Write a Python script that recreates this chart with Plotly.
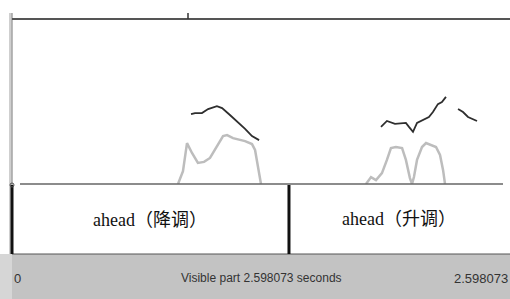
import plotly.graph_objects as go

# ---- data ----
total_dur = 2.598073
boundary_t = 1.445

pitch1_t = [0.934, 0.955, 0.991, 1.023, 1.069, 1.096, 1.137, 1.179, 1.216, 1.252, 1.289]
pitch1_hz = [212, 215, 215, 227, 236, 230, 209, 188, 167, 145, 133]

pitch2_t = [1.925, 1.956, 1.998, 2.055, 2.071, 2.092, 2.113, 2.144, 2.175, 2.196, 2.222, 2.243, 2.264]
pitch2_hz = [173, 191, 182, 185, 173, 158, 185, 194, 203, 218, 242, 248, 264]

pitch3_t = [2.327, 2.353, 2.379, 2.426]
pitch3_hz = [227, 218, 203, 191]

int1_t = [0.866, 0.892, 0.913, 0.939, 0.970, 1.002, 1.033, 1.069, 1.101, 1.122, 1.153, 1.216, 1.252, 1.268, 1.283, 1.299]
int1_db = [50, 53.9, 62.4, 59.4, 56.4, 56.7, 57.9, 61.2, 64.5, 64.8, 63.9, 63.0, 62.1, 60.3, 55.2, 50]

int2_t = [1.847, 1.873, 1.899, 1.930, 1.956, 1.977, 2.003, 2.035, 2.055, 2.076, 2.087, 2.097, 2.113,
          2.139, 2.160, 2.186, 2.212, 2.233, 2.249, 2.259]
int2_db = [50, 52.1, 51.2, 53.3, 57.3, 60.9, 61.2, 60.9, 57.3, 51.8, 50, 52.1, 57.3,
           61.2, 62.4, 61.8, 61.2, 58.8, 54.2, 50]

tier_labels = ["ahead（降调）", "ahead（升调）"]
bottom_left_label = "0"
bottom_center_label = "Visible part 2.598073 seconds"
bottom_right_label = "2.598073"

W, H = 510, 299


def px(x):
    return x / W


def py(y):
    return 1 - y / H


fig = go.Figure()

int_style = dict(color="#bdbdbd", width=2.5)
pitch_style = dict(color="#2e2e2e", width=1.8)

for t, v in [(int1_t, int1_db), (int2_t, int2_db)]:
    fig.add_trace(go.Scatter(x=t, y=v, mode="lines", line=int_style, yaxis="y2",
                             hoverinfo="skip", showlegend=False))
for t, v in [(pitch1_t, pitch1_hz), (pitch2_t, pitch2_hz), (pitch3_t, pitch3_hz)]:
    fig.add_trace(go.Scatter(x=t, y=v, mode="lines", line=pitch_style, yaxis="y",
                             hoverinfo="skip", showlegend=False))

ax_dom_y = [py(184), py(19)]
fig.update_layout(
    width=W, height=H,
    margin=dict(l=0, r=0, t=0, b=0),
    paper_bgcolor="white", plot_bgcolor="rgba(0,0,0,0)",
    xaxis=dict(domain=[px(12), 1.0], range=[0, total_dur], visible=False, fixedrange=True),
    yaxis=dict(domain=ax_dom_y, range=[0, 500], visible=False),
    yaxis2=dict(domain=ax_dom_y, range=[50, 100], visible=False, overlaying="y"),
)

shapes = []
# bottom grey bar
shapes.append(dict(type="rect", xref="paper", yref="paper", x0=0, x1=1, y0=0, y1=py(254),
                   fillcolor="#c3c3c3", line=dict(width=0), layer="below"))
shapes.append(dict(type="rect", xref="paper", yref="paper", x0=0, x1=px(12), y0=0, y1=py(254),
                   fillcolor="#d6d6d6", line=dict(width=0), layer="below"))
# left light strip
shapes.append(dict(type="rect", xref="paper", yref="paper", x0=px(9), x1=px(11.5), y0=py(254), y1=py(13),
                   fillcolor="#cfcfcf", line=dict(width=0), layer="below"))
# left thin line in top area
shapes.append(dict(type="line", xref="paper", yref="paper", x0=px(12), x1=px(12), y0=py(185), y1=py(13),
                   line=dict(color="#777777", width=1)))
# top line
shapes.append(dict(type="line", xref="paper", yref="paper", x0=px(12), x1=1, y0=py(19), y1=py(19),
                   line=dict(color="#555555", width=2)))
# small tick on top
shapes.append(dict(type="line", xref="paper", yref="paper", x0=px(188), x1=px(188), y0=py(19), y1=py(13),
                   line=dict(color="#333333", width=1.5)))
# baseline
shapes.append(dict(type="line", xref="paper", yref="paper", x0=px(20), x1=px(503), y0=py(184), y1=py(184),
                   line=dict(color="#666666", width=1.5)))
# tier bottom line
shapes.append(dict(type="line", xref="paper", yref="paper", x0=px(12), x1=1, y0=py(254), y1=py(254),
                   line=dict(color="#555555", width=1)))
# tier left line
shapes.append(dict(type="line", xref="paper", yref="paper", x0=px(12), x1=px(12), y0=py(254), y1=py(185),
                   line=dict(color="#111111", width=3)))
# boundary
shapes.append(dict(type="line", xref="x", yref="paper", x0=boundary_t, x1=boundary_t, y0=py(254), y1=py(185),
                   line=dict(color="#111111", width=3)))
# small circle marker at left
shapes.append(dict(type="circle", xref="paper", yref="paper", x0=px(10), x1=px(14), y0=py(187), y1=py(183),
                   line=dict(color="#555555", width=1), fillcolor="rgba(0,0,0,0)"))
fig.update_layout(shapes=shapes)

serif = "Liberation Serif, Times New Roman, Noto Sans CJK SC, serif"
sans = "Liberation Sans, Arial, sans-serif"
anns = [
    dict(x=(0 + boundary_t) / 2, xref="x", y=py(220), yref="paper", text=tier_labels[0],
         xanchor="center", yanchor="middle",
         showarrow=False, font=dict(family=serif, size=18, color="#111111")),
    dict(x=(boundary_t + total_dur) / 2, xref="x", y=py(219), yref="paper", text=tier_labels[1],
         xanchor="center", yanchor="middle",
         showarrow=False, font=dict(family=serif, size=18, color="#111111")),
    dict(x=px(12), xref="paper", y=py(278), yref="paper", text=bottom_left_label, xanchor="left",
         yanchor="middle", showarrow=False, font=dict(family=sans, size=13, color="#333333")),
    dict(x=px(261), xref="paper", y=py(278), yref="paper", text=bottom_center_label, xanchor="center",
         yanchor="middle", showarrow=False, font=dict(family=sans, size=12, color="#333333")),
    dict(x=px(510), xref="paper", y=py(278), yref="paper", text=bottom_right_label, xanchor="right",
         yanchor="middle", showarrow=False, font=dict(family=sans, size=13, color="#333333")),
]
fig.update_layout(annotations=anns)

fig.write_html("out.html", config={"displayModeBar": False},
               post_script="document.body.style.margin='0';document.body.style.overflow='hidden';")
